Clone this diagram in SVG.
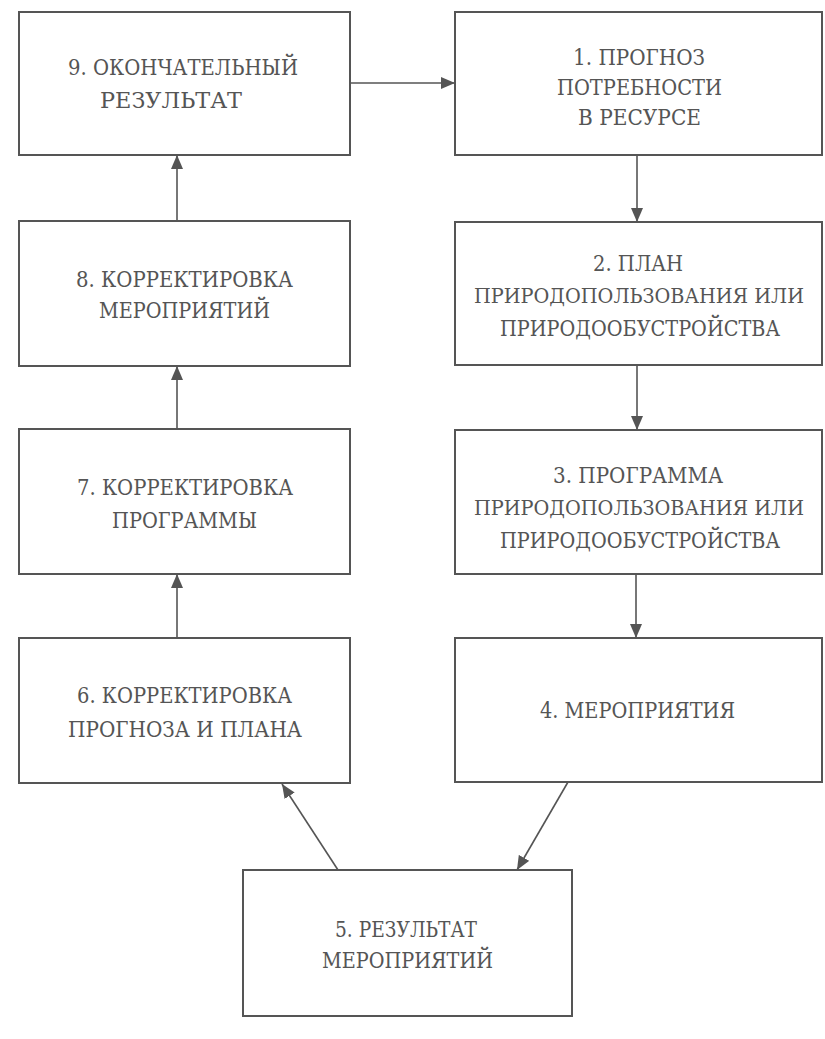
<svg xmlns="http://www.w3.org/2000/svg" width="825" height="1039" viewBox="0 0 825 1039">
<defs>
<style>
.box{fill:none;stroke:#555;stroke-width:2}
.t{font-family:'DejaVu Serif','Liberation Serif',serif;font-size:22px;fill:#555;text-anchor:middle}
.s{font-size:20px}
.c{stroke:#555;stroke-width:1.6;fill:none;marker-end:url(#ah)}
</style>
<marker id="ah" markerUnits="userSpaceOnUse" markerWidth="14" markerHeight="12" refX="14" refY="6" orient="auto">
<path d="M0,0 L14,6 L0,12 z" fill="#555"/>
</marker>
</defs>
<rect width="825" height="1039" fill="#fff"/>
<g id="connectors">
<line class="c" x1="350" y1="83" x2="455" y2="83"/>
<line class="c" x1="637" y1="155" x2="637" y2="222"/>
<line class="c" x1="637" y1="365" x2="637" y2="430"/>
<line class="c" x1="636" y1="574" x2="636" y2="638"/>
<line class="c" x1="568" y1="782" x2="517" y2="870"/>
<line class="c" x1="338" y1="870" x2="282" y2="784"/>
<line class="c" x1="177" y1="638" x2="177" y2="574"/>
<line class="c" x1="177" y1="429" x2="177" y2="366"/>
<line class="c" x1="177" y1="221" x2="177" y2="155"/>
</g>
<g id="node9">
<rect class="box" x="19" y="12" width="331" height="143"/>
<text class="t" x="183" y="75" textLength="230" lengthAdjust="spacingAndGlyphs">9. ОКОНЧАТЕЛЬНЫЙ</text>
<text class="t" x="171" y="108" textLength="142" lengthAdjust="spacingAndGlyphs">РЕЗУЛЬТАТ</text>
</g>
<g id="node1">
<rect class="box" x="455" y="12" width="367" height="143"/>
<text class="t" x="639" y="65" textLength="132" lengthAdjust="spacingAndGlyphs">1. ПРОГНОЗ</text>
<text class="t" x="639.5" y="95" textLength="165" lengthAdjust="spacingAndGlyphs">ПОТРЕБНОСТИ</text>
<text class="t" x="639.5" y="125" textLength="123" lengthAdjust="spacingAndGlyphs">В РЕСУРСЕ</text>
</g>
<g id="node2">
<rect class="box" x="455" y="222" width="367" height="143"/>
<text class="t" x="638" y="271" textLength="90" lengthAdjust="spacingAndGlyphs">2. ПЛАН</text>
<text class="t s" x="639" y="303" textLength="330" lengthAdjust="spacingAndGlyphs">ПРИРОДОПОЛЬЗОВАНИЯ ИЛИ</text>
<text class="t" x="640" y="336" textLength="280" lengthAdjust="spacingAndGlyphs">ПРИРОДООБУСТРОЙСТВА</text>
</g>
<g id="node3">
<rect class="box" x="455" y="430" width="367" height="144"/>
<text class="t" x="638" y="483" textLength="170" lengthAdjust="spacingAndGlyphs">3. ПРОГРАММА</text>
<text class="t s" x="639" y="515" textLength="330" lengthAdjust="spacingAndGlyphs">ПРИРОДОПОЛЬЗОВАНИЯ ИЛИ</text>
<text class="t" x="640" y="548" textLength="280" lengthAdjust="spacingAndGlyphs">ПРИРОДООБУСТРОЙСТВА</text>
</g>
<g id="node4">
<rect class="box" x="455" y="638" width="367" height="144"/>
<text class="t" x="637.5" y="718" textLength="195" lengthAdjust="spacingAndGlyphs">4. МЕРОПРИЯТИЯ</text>
</g>
<g id="node5">
<rect class="box" x="243" y="870" width="329" height="146"/>
<text class="t" x="406" y="937" textLength="142" lengthAdjust="spacingAndGlyphs">5. РЕЗУЛЬТАТ</text>
<text class="t" x="407.5" y="968" textLength="171" lengthAdjust="spacingAndGlyphs">МЕРОПРИЯТИЙ</text>
</g>
<g id="node6">
<rect class="box" x="19" y="638" width="331" height="145"/>
<text class="t" x="184.5" y="703" textLength="215" lengthAdjust="spacingAndGlyphs">6. КОРРЕКТИРОВКА</text>
<text class="t" x="185" y="737" textLength="234" lengthAdjust="spacingAndGlyphs">ПРОГНОЗА И ПЛАНА</text>
</g>
<g id="node7">
<rect class="box" x="19" y="429" width="331" height="145"/>
<text class="t" x="185" y="495" textLength="216" lengthAdjust="spacingAndGlyphs">7. КОРРЕКТИРОВКА</text>
<text class="t" x="184.5" y="528" textLength="145" lengthAdjust="spacingAndGlyphs">ПРОГРАММЫ</text>
</g>
<g id="node8">
<rect class="box" x="19" y="221" width="331" height="145"/>
<text class="t" x="184.5" y="287" textLength="217" lengthAdjust="spacingAndGlyphs">8. КОРРЕКТИРОВКА</text>
<text class="t" x="184.5" y="318" textLength="171" lengthAdjust="spacingAndGlyphs">МЕРОПРИЯТИЙ</text>
</g>
</svg>
